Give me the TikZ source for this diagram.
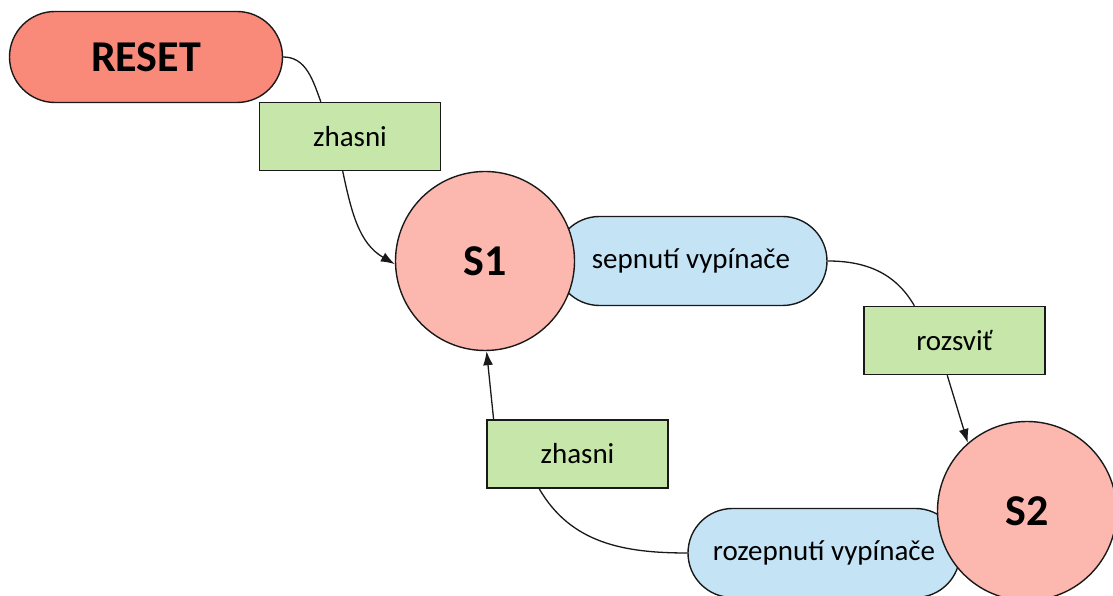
\documentclass[tikz,border=0pt]{standalone}
\usepackage{fontspec}
\setmainfont{Carlito}
\usetikzlibrary{shapes.misc,arrows.meta,calc}
\definecolor{resetc}{RGB}{249,138,122}
\definecolor{statec}{RGB}{252,184,174}
\definecolor{actc}{RGB}{198,231,169}
\definecolor{evc}{RGB}{196,228,246}
\tikzset{
  base/.style={draw=black!90, line width=1.4pt, inner sep=0pt},
  resetbox/.style={base, rounded rectangle, fill=resetc, minimum width=273pt, minimum height=91pt, font=\fontsize{44}{48}\selectfont\bfseries},
  statebox/.style={base, circle, fill=statec, minimum size=179pt, font=\fontsize{44}{48}\selectfont\bfseries},
  actbox/.style={base, rectangle, fill=actc, minimum width=181pt, minimum height=68pt, font=\fontsize{29}{33}\selectfont},
  evbox/.style={base, rounded rectangle, fill=evc, minimum width=272pt, minimum height=89pt, font=\fontsize{29}{33}\selectfont},
  conn/.style={draw=black!90, line width=1.3pt},
  arr/.style={conn, -{Latex[length=14pt,width=10pt]}},
}
\begin{document}
\begin{tikzpicture}[x=1pt,y=1pt]
\useasboundingbox (0,0) rectangle (1113,596);
\clip (0,0) rectangle (1113,596);
% event stadiums (behind circles)
\node[evbox] (sep) at (691,335) {sepnutí vypínače};
\node[evbox] (rozep) at (824,43) {rozepnutí vypínače};
% states
\node[resetbox] (reset) at (146,539) {RESET};
\node[statebox] (s1) at (485,335) {S1};
\node[statebox] (s2) at (1027,85) {S2};
% actions
\node[actbox] (z1) at (350,459.5) {zhasni};
\node[actbox] (rz) at (954.5,255.5) {rozsviť};
\node[actbox] (z2) at (577.5,142) {zhasni};
% connectors
\coordinate (z1top) at ($(z1.north west)!0.34!(z1.north east)$);
\coordinate (z1bot) at ($(z1.south west)!0.46!(z1.south east)$);
\coordinate (rztop) at ($(rz.north west)!0.28!(rz.north east)$);
\coordinate (rzbot) at ($(rz.south west)!0.46!(rz.south east)$);
\coordinate (z2top) at ($(z2.north west)!0.04!(z2.north east)$);
\coordinate (z2bot) at ($(z2.south west)!0.29!(z2.south east)$);
\draw[conn] (reset.east) to[out=0,in=110] (z1top);
\draw[arr] (z1bot) to[out=-78,in=150] (s1.182);
\draw[conn] (sep.east) to[out=0,in=120] (rztop);
\draw[arr] (rzbot) -- (s2.131);
\draw[conn] (rozep.west) to[out=180,in=-60] (z2bot);
\draw[arr] (z2top) -- (s1.-89);
\end{tikzpicture}
\end{document}
